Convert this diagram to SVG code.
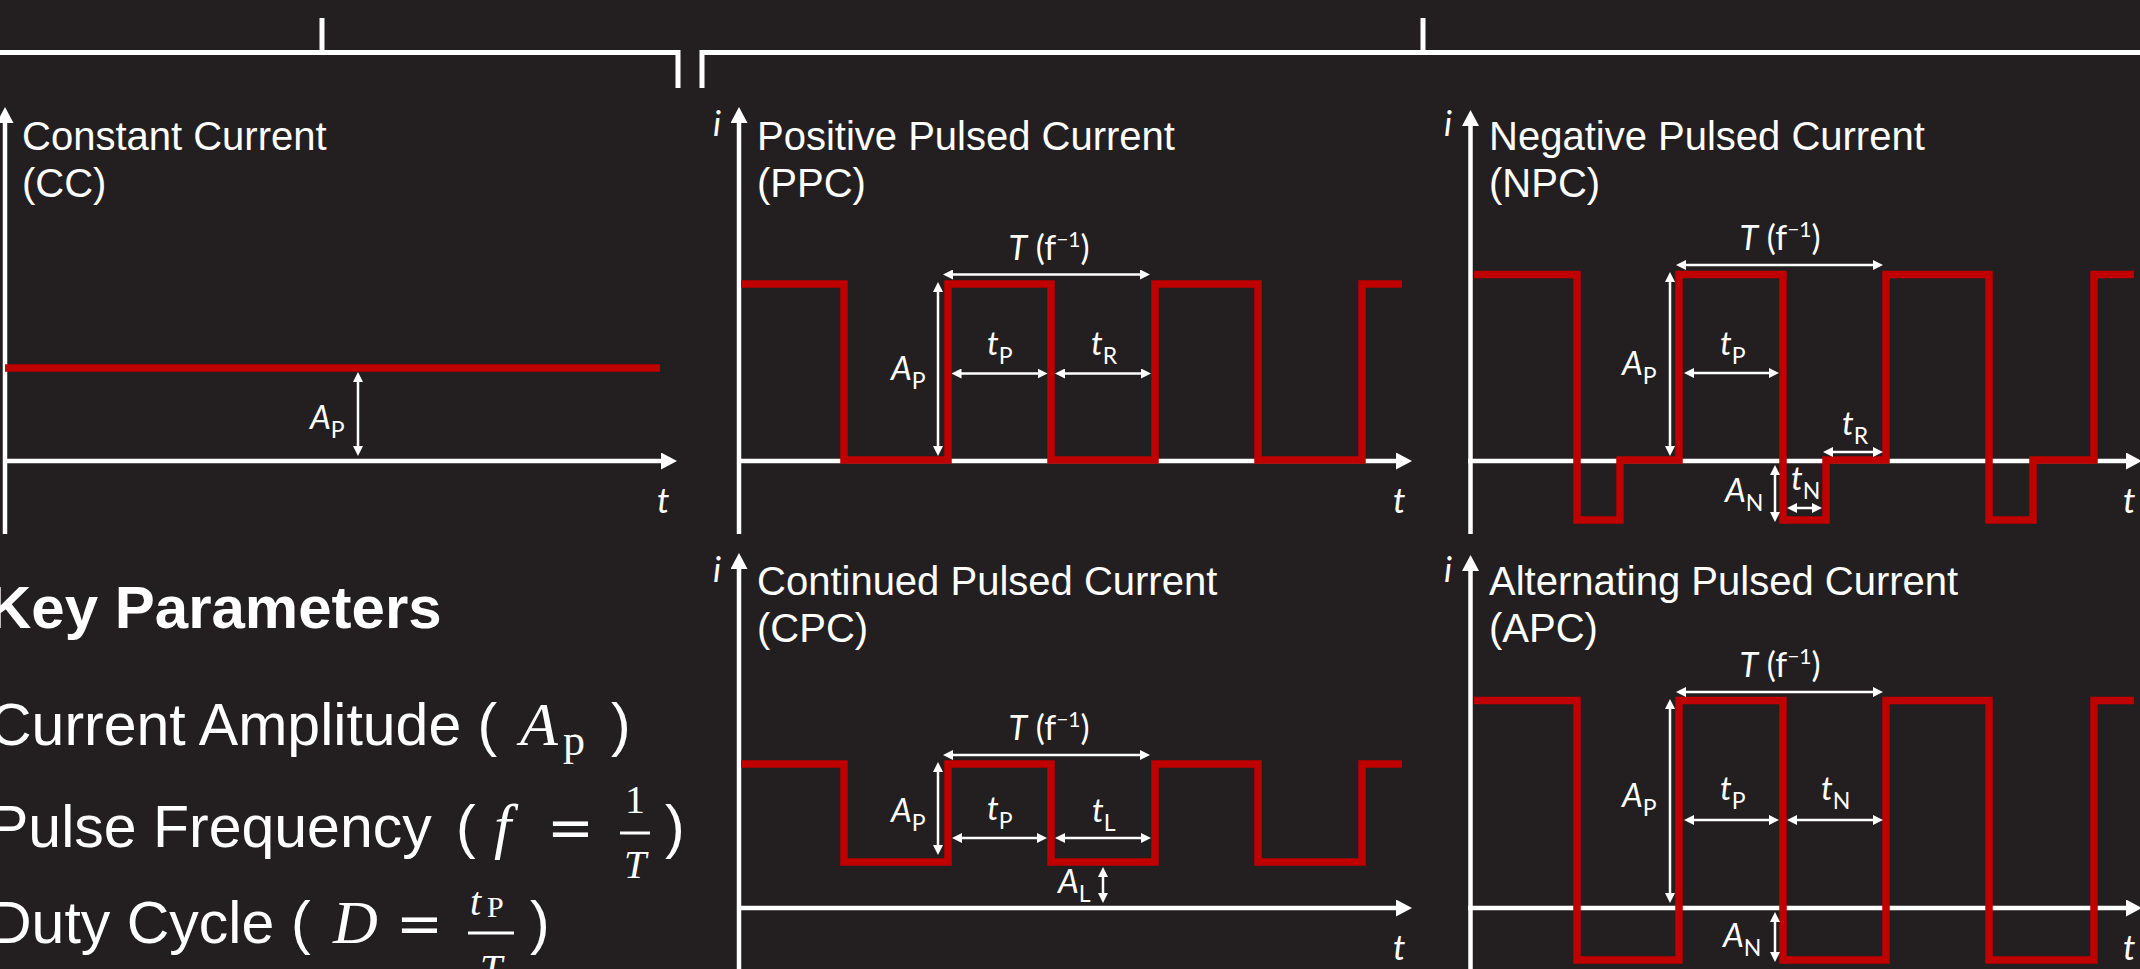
<svg xmlns="http://www.w3.org/2000/svg" width="2140" height="969" viewBox="0 0 2140 969">
<defs>
<style>
.ax{stroke:#fff;stroke-width:4.5;fill:none;marker-end:url(#axh)}
.br{stroke:#fff;stroke-width:5;fill:none}
.wv{stroke:#C00000;stroke-width:7.5;fill:none;stroke-linejoin:miter}
.dm{stroke:#fff;stroke-width:2.5;fill:none;marker-start:url(#dh);marker-end:url(#dh)}
.ttl{font-family:"Liberation Sans",Arial,sans-serif;font-size:40px;fill:#fff}
.lb{font-family:Lato,"Open Sans",sans-serif;font-size:33px;fill:#fff}
.tl{font-family:Lato,"Open Sans",sans-serif;font-size:34px;fill:#fff}
.it{font-style:italic}
.sb{font-size:23px}
.sp{font-size:21px}
.axl{font-family:Lato,"Open Sans",sans-serif;font-size:35px;font-style:italic;fill:#fff}
.kp{font-family:"Liberation Sans",Arial,sans-serif;font-size:59px;fill:#fff}
.kb{font-family:"Liberation Sans",Arial,sans-serif;font-size:60px;font-weight:bold;fill:#fff}
.mt{font-family:"Liberation Serif","Times New Roman",serif;fill:#fff}
.eq{font-family:"DejaVu Serif",serif;font-size:56px;fill:#fff}
.fb{stroke:#fff;stroke-width:3}
</style>
<marker id="axh" viewBox="0 0 16 17" refX="4" refY="8.5" markerWidth="16" markerHeight="17" markerUnits="userSpaceOnUse" orient="auto"><path d="M0,0 L16,8.5 L0,17 z" fill="#fff"/></marker>
<marker id="dh" viewBox="0 0 10 10" refX="3" refY="5" markerWidth="10" markerHeight="10" markerUnits="userSpaceOnUse" orient="auto-start-reverse"><path d="M0,0 L10,5 L0,10 z" fill="#fff"/></marker>
</defs>
<rect x="0" y="0" width="2140" height="969" fill="#231F20"/>

<g id="connectors">
<path class="br" d="M-5,52.5 H678 V88"/>
<path class="br" d="M322,18 V52.5"/>
<path class="br" d="M702,88 V52.5 H2145"/>
<path class="br" d="M1423,18 V52.5"/>
</g>

<g id="cc">
<path class="ax" d="M5,534 V119"/>
<path class="ax" d="M3,461 H665"/>
<path class="wv" d="M5,368 H660"/>
<path class="dm" d="M358,379 V449"/>
<text class="ttl" x="22" y="150">Constant Current</text>
<text class="ttl" x="22" y="197">(CC)</text>
<text class="lb" x="310" y="429"><tspan class="it">A</tspan><tspan class="sb" dy="9">P</tspan></text>
<text class="axl" x="657" y="513">t</text>
</g>

<g id="ppc">
<path class="ax" d="M739,534 V119"/>
<path class="ax" d="M737,461 H1400"/>
<path class="wv" d="M741,284 H844 V460 H948 V284 H1051 V460 H1155 V284 H1258 V460 H1362 V284 H1402"/>
<path class="dm" d="M950,274.5 H1143"/>
<path class="dm" d="M938,289 V449"/>
<path class="dm" d="M958.5,373.5 H1040.5"/>
<path class="dm" d="M1062,373.5 H1144"/>
<text class="axl" x="713" y="136">i</text>
<text class="axl" x="1393" y="513">t</text>
<text class="ttl" x="757" y="150">Positive Pulsed Current</text>
<text class="ttl" x="757" y="197">(PPC)</text>
<text class="tl" x="1049" y="260" text-anchor="middle"><tspan class="it">T</tspan> (f<tspan class="sp" dy="-13">−1</tspan><tspan dy="13">)</tspan></text>
<text class="lb" x="891" y="380"><tspan class="it">A</tspan><tspan class="sb" dy="9">P</tspan></text>
<text class="lb" x="987" y="355"><tspan class="it">t</tspan><tspan class="sb" dy="9">P</tspan></text>
<text class="lb" x="1091" y="355"><tspan class="it">t</tspan><tspan class="sb" dy="9">R</tspan></text>
</g>

<g id="npc">
<path class="ax" d="M1470.5,534 V122"/>
<path class="ax" d="M1468,461 H2130"/>
<path class="wv" d="M1474,274.5 H1577 V520 H1620 V460 H1679 V274.5 H1783 V520 H1826 V460 H1886 V274.5 H1989 V520 H2033 V460 H2094 V274.5 H2134"/>
<path class="dm" d="M1683,265 H1876"/>
<path class="dm" d="M1670,279 V449"/>
<path class="dm" d="M1691,373 H1772"/>
<path class="dm" d="M1830,452 H1876"/>
<path class="dm" d="M1775,472 V515"/>
<path class="dm" d="M1794,508 H1815"/>
<text class="axl" x="1444" y="136">i</text>
<text class="axl" x="2123" y="513">t</text>
<text class="ttl" x="1489" y="150">Negative Pulsed Current</text>
<text class="ttl" x="1489" y="197">(NPC)</text>
<text class="tl" x="1780" y="250" text-anchor="middle"><tspan class="it">T</tspan> (f<tspan class="sp" dy="-13">−1</tspan><tspan dy="13">)</tspan></text>
<text class="lb" x="1622" y="375"><tspan class="it">A</tspan><tspan class="sb" dy="9">P</tspan></text>
<text class="lb" x="1720" y="355"><tspan class="it">t</tspan><tspan class="sb" dy="9">P</tspan></text>
<text class="lb" x="1842" y="435"><tspan class="it">t</tspan><tspan class="sb" dy="9">R</tspan></text>
<text class="lb" x="1725" y="502"><tspan class="it">A</tspan><tspan class="sb" dy="9">N</tspan></text>
<text class="lb" x="1791" y="490"><tspan class="it">t</tspan><tspan class="sb" dy="9">N</tspan></text>
</g>

<g id="cpc">
<path class="ax" d="M739,975 V565"/>
<path class="ax" d="M737,908 H1400"/>
<path class="wv" d="M741,764 H844 V862 H948 V764 H1051 V862 H1155 V764 H1258 V862 H1362 V764 H1402"/>
<path class="dm" d="M950,755 H1143"/>
<path class="dm" d="M938,769 V848"/>
<path class="dm" d="M959,838 H1040"/>
<path class="dm" d="M1062,838 H1144"/>
<path class="dm" d="M1103,874 V896"/>
<text class="axl" x="713" y="582">i</text>
<text class="axl" x="1393" y="960">t</text>
<text class="ttl" x="757" y="595">Continued Pulsed Current</text>
<text class="ttl" x="757" y="642">(CPC)</text>
<text class="tl" x="1049" y="740" text-anchor="middle"><tspan class="it">T</tspan> (f<tspan class="sp" dy="-13">−1</tspan><tspan dy="13">)</tspan></text>
<text class="lb" x="891" y="822"><tspan class="it">A</tspan><tspan class="sb" dy="9">P</tspan></text>
<text class="lb" x="987" y="820"><tspan class="it">t</tspan><tspan class="sb" dy="9">P</tspan></text>
<text class="lb" x="1092" y="822"><tspan class="it">t</tspan><tspan class="sb" dy="9">L</tspan></text>
<text class="lb" x="1058" y="893"><tspan class="it">A</tspan><tspan class="sb" dy="9">L</tspan></text>
</g>

<g id="apc">
<path class="ax" d="M1470.5,975 V567"/>
<path class="ax" d="M1468,908 H2130"/>
<path class="wv" d="M1474,700.5 H1577 V960 H1679 V700.5 H1783 V960 H1886 V700.5 H1989 V960 H2094 V700.5 H2134"/>
<path class="dm" d="M1683,692 H1876"/>
<path class="dm" d="M1670,706 V896"/>
<path class="dm" d="M1691,820 H1772"/>
<path class="dm" d="M1794,820 H1876"/>
<path class="dm" d="M1775,919 V955"/>
<text class="axl" x="1444" y="582">i</text>
<text class="axl" x="2123" y="960">t</text>
<text class="ttl" x="1489" y="595">Alternating Pulsed Current</text>
<text class="ttl" x="1489" y="642">(APC)</text>
<text class="tl" x="1780" y="677" text-anchor="middle"><tspan class="it">T</tspan> (f<tspan class="sp" dy="-13">−1</tspan><tspan dy="13">)</tspan></text>
<text class="lb" x="1622" y="807"><tspan class="it">A</tspan><tspan class="sb" dy="9">P</tspan></text>
<text class="lb" x="1720" y="800"><tspan class="it">t</tspan><tspan class="sb" dy="9">P</tspan></text>
<text class="lb" x="1821" y="800"><tspan class="it">t</tspan><tspan class="sb" dy="9">N</tspan></text>
<text class="lb" x="1723" y="947"><tspan class="it">A</tspan><tspan class="sb" dy="9">N</tspan></text>
</g>

<g id="key-parameters">
<text class="kb" x="-12" y="628">Key Parameters</text>
<text class="kp" x="-11" y="745">Current Amplitude (</text>
<text class="mt it" x="520" y="745" font-size="62">A</text>
<text class="mt" x="563" y="755" font-size="44">p</text>
<text class="kp" x="611" y="745">)</text>
<text class="kp" x="-11" y="847">Pulse Frequency</text>
<text class="kp" x="456" y="847">(</text>
<text class="mt it" x="494" y="847" font-size="62">f</text>
<text class="eq" x="547" y="847">=</text>
<text class="mt" x="635" y="813" font-size="40" text-anchor="middle">1</text>
<line class="fb" x1="620" y1="833" x2="650" y2="833"/>
<text class="mt it" x="635" y="878" font-size="40" text-anchor="middle">T</text>
<text class="kp" x="665" y="847">)</text>
<text class="kp" x="-11" y="943">Duty Cycle</text>
<text class="kp" x="291" y="943">(</text>
<text class="mt it" x="333" y="943" font-size="62">D</text>
<text class="eq" x="396" y="943">=</text>
<text class="mt it" x="470" y="915" font-size="40">t</text>
<text class="mt" x="487" y="917" font-size="30">P</text>
<line class="fb" x1="468" y1="933" x2="514" y2="933"/>
<text class="mt it" x="491" y="982" font-size="40" text-anchor="middle">T</text>
<text class="kp" x="530" y="943">)</text>
</g>
</svg>
